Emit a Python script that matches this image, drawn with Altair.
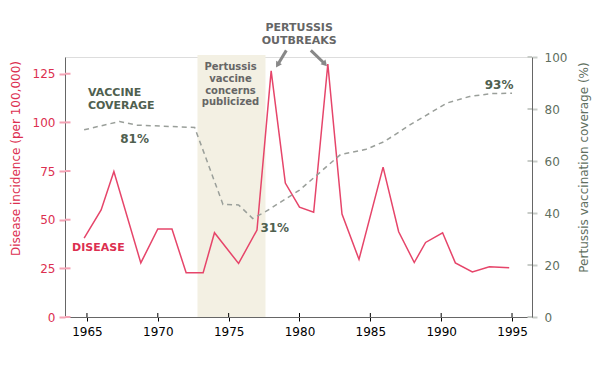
import altair as alt
import pandas as pd

# Disease incidence (per 100,000)
dis_year = [1964.8, 1966.0, 1966.9, 1968.8, 1970.0, 1971.0, 1972.0, 1973.2, 1974.0, 1975.7,
            1977.0, 1978.0, 1979.0, 1980.0, 1981.0, 1982.0, 1983.0, 1984.2, 1985.9, 1987.0,
            1988.1, 1988.9, 1990.1, 1991.0, 1992.2, 1993.4, 1994.8]
dis_val = [40.5, 55.0, 74.8, 27.8, 45.2, 45.2, 22.7, 22.7, 43.3, 27.5,
           44.7, 126.5, 68.8, 56.4, 53.8, 130.0, 52.9, 29.6, 77.0, 43.8,
           28.0, 38.3, 43.3, 27.8, 23.2, 25.8, 25.3]

# Vaccination coverage (%)
cov_year = [1964.8, 1967.3, 1968.5, 1972.6, 1974.6, 1975.7, 1976.7, 1977.6, 1980.0, 1982.9,
            1984.7, 1986.0, 1988.0, 1989.2, 1990.4, 1992.0, 1993.5, 1995.0]
cov_val = [72.0, 75.2, 73.8, 72.9, 43.3, 43.1, 37.9, 40.5, 48.8, 62.5,
           64.5, 67.5, 74.6, 78.4, 82.3, 84.8, 85.9, 86.1]

band_start, band_end = 1972.8, 1977.6

x_ticks = [1965, 1970, 1975, 1980, 1985, 1990, 1995]
left_ticks = [0, 25, 50, 75, 100, 125]
right_ticks = [0, 20, 40, 60, 80, 100]

# annotation texts (positions in data units of the left axis)
ann_text = ["VACCINE", "COVERAGE", "DISEASE", "81%", "31%", "93%",
            "PERTUSSIS", "OUTBREAKS",
            "Pertussis", "vaccine", "concerns", "publicized"]
ann_x = [1965.07, 1965.07, 1963.95, 1967.35, 1977.24, 1993.07,
         1979.98, 1979.98,
         1975.13, 1975.13, 1975.13, 1975.13]
ann_y = [115.0, 108.6, 35.3, 91.3, 45.9, 119.2,
         148.3, 141.8,
         128.3, 122.5, 116.2, 110.3]
ann_grp = ["cov", "cov", "dis", "pct", "pct", "pct",
           "out", "out",
           "band", "band", "band", "band"]

# arrows: start -> tip
arr_x1 = [1979.07, 1980.8]
arr_y1 = [137.0, 137.0]
arr_x2 = [1978.45, 1981.8]
arr_y2 = [129.5, 130.0]
arr_angle = [211, 137]

XMIN, XMAX = 1963.45, 1996.41
LMAX = 133.6
W, H = 467, 260

xs = alt.Scale(domain=[XMIN, XMAX], nice=False, zero=False)
ls = alt.Scale(domain=[0, LMAX], nice=False)
rs = alt.Scale(domain=[0, 100], nice=False)

CRIMSON = "#dc2f50"
GREEN = "#4f604f"

dis_df = pd.DataFrame({"year": dis_year, "val": dis_val})
cov_df = pd.DataFrame({"year": cov_year, "val": cov_val})
band_df = pd.DataFrame({"x": [band_start], "x2": [band_end], "y": [0], "y2": [134.6]})
ann_df = pd.DataFrame({"t": ann_text, "x": ann_x, "y": ann_y, "g": ann_grp})
arr_df = pd.DataFrame({"x": arr_x1, "y": arr_y1, "x2": arr_x2, "y2": arr_y2, "a": arr_angle})
xt_df = pd.DataFrame({"v": x_ticks})
lt_df = pd.DataFrame({"v": left_ticks})
rt_df = pd.DataFrame({"v": right_ticks})

xaxis = alt.Axis(values=x_ticks, format="d", title=None, grid=False,
                 domainColor="#666666", tickColor="#000000", tickSize=4,
                 labelColor="#000000", labelFont="DejaVu Sans", labelFontSize=12,
                 labelPadding=5, labelFlush=False)

band = alt.Chart(band_df).mark_rect(color="#f3f0e3").encode(
    x=alt.X("x:Q", scale=xs, axis=xaxis),
    x2="x2:Q",
    y=alt.Y("y:Q", scale=ls, axis=alt.Axis(
        values=left_ticks, title="Disease incidence (per 100,000)", grid=False,
        domainColor="#666666", tickColor="#f4a3b5", tickWidth=2, tickSize=6,
        labelColor=CRIMSON, labelFont="DejaVu Sans", labelFontSize=12, labelPadding=4,
        titleColor=CRIMSON, titleFont="DejaVu Sans", titleFontSize=12, titleFontWeight="normal",
        titleAngle=-90, titleAlign="center", titleBaseline="middle",
        titleX=-50, titleY=101)),
    y2="y2:Q",
)

# inner halves of the axis ticks (ticks cross the axis lines)
x_in = alt.Chart(xt_df).mark_rule(color="#000000", strokeWidth=1).encode(
    x=alt.X("v:Q", scale=xs), y=alt.value(H), y2=alt.value(H - 4))
l_in = alt.Chart(lt_df).mark_rule(color="#f4a3b5", strokeWidth=2).encode(
    y=alt.Y("v:Q", scale=ls), x=alt.value(0), x2=alt.value(5.5))

dis_line = alt.Chart(dis_df).mark_line(color="#e6456a", strokeWidth=1.5).encode(
    x=alt.X("year:Q", scale=xs),
    y=alt.Y("val:Q", scale=ls),
)

def txt(group, color, size, align, font="DejaVu Sans"):
    return alt.Chart(ann_df).transform_filter(alt.datum.g == group).mark_text(
        color=color, fontSize=size, fontWeight="bold", align=align,
        baseline="middle", font=font, clip=False
    ).encode(x=alt.X("x:Q", scale=xs), y=alt.Y("y:Q", scale=ls), text="t:N")

t_cov = txt("cov", GREEN, 11, "left")
t_dis = txt("dis", CRIMSON, 11, "left")
t_pct = txt("pct", GREEN, 12, "left")
t_out = txt("out", "#666666", 11, "center")
t_band = txt("band", "#666666", 10, "center")

arr_shaft = alt.Chart(arr_df).mark_rule(color="#888888", strokeWidth=3).encode(
    x=alt.X("x:Q", scale=xs), y=alt.Y("y:Q", scale=ls), x2="x2:Q", y2="y2:Q")
arr_head = alt.Chart(arr_df).mark_point(shape="triangle-up", filled=True, color="#888888",
                                         size=45, opacity=1).encode(
    x=alt.X("x2:Q", scale=xs), y=alt.Y("y2:Q", scale=ls), angle=alt.Angle("a:Q", scale=None))

left = alt.layer(band, x_in, l_in, dis_line, arr_shaft, arr_head,
                 t_cov, t_dis, t_pct, t_out, t_band)

cov_line = alt.Chart(cov_df).mark_line(color="#9a9f9a", strokeWidth=1.5, strokeDash=[5, 4]).encode(
    x=alt.X("year:Q", scale=xs),
    y=alt.Y("val:Q", scale=rs, axis=alt.Axis(
        orient="right", values=right_ticks, title="Pertussis vaccination coverage (%)", grid=False,
        domainColor="#666666", tickColor="#c8ccc8", tickWidth=2, tickSize=5,
        labelColor="#5f6f5f", labelFont="DejaVu Sans", labelFontSize=12, labelPadding=7,
        titleColor="#5f6f5f", titleFont="DejaVu Sans", titleFontSize=12, titleFontWeight="normal",
        titleAngle=-90, titleAlign="center", titleBaseline="middle",
        titleX=51, titleY=110)),
)
r_in = alt.Chart(rt_df).mark_rule(color="#c8ccc8", strokeWidth=2).encode(
    y=alt.Y("v:Q", scale=rs), x=alt.value(W - 4.5), x2=alt.value(W))

right = alt.layer(r_in, cov_line)

chart = alt.layer(left, right).resolve_scale(y="independent").properties(
    width=W, height=H,
    autosize=alt.AutoSizeParams(type="none"),
    padding={"left": 57, "top": 49, "right": 66, "bottom": 40},
).configure_view(stroke=None).configure(background="white")

chart.save("out.html", embed_options={"renderer": "svg", "actions": False})
